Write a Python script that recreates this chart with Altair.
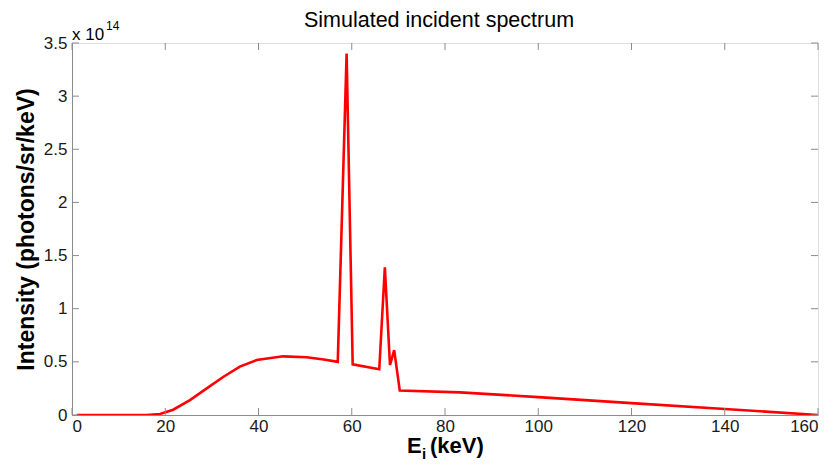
import altair as alt
import pandas as pd

# Spectrum (intensity in units of 1e14 photons/sr/keV)
energy = [1, 10, 16, 18.9, 21.7, 25.3, 28.9, 32.5, 36.0, 39.6, 45.3, 50.3, 54.0,
          57.0, 58.9, 60.2, 65.9, 67.1, 68.2, 69.1, 70.3, 83.2, 100, 120, 140, 160]
intensity = [0, 0, 0, 0.01, 0.05, 0.14, 0.25, 0.36, 0.455, 0.517, 0.552, 0.543, 0.522,
             0.50, 3.40, 0.477, 0.43, 1.39, 0.47, 0.61, 0.23, 0.213, 0.168, 0.112, 0.056, 0.0]

x_ticks = [0, 20, 40, 60, 80, 100, 120, 140, 160]
y_ticks = [0, 0.5, 1, 1.5, 2, 2.5, 3, 3.5]

title_text = "Simulated incident spectrum"
y_title = "Intensity (photons/sr/keV)"
x_title_main = "E"
x_title_sub = "i"
x_title_unit = "(keV)"
mult_text = "x 10"
mult_exp = "14"

FONT = "Liberation Sans"
W, H = 746, 372
AX = "#8c8c8c"
RED = "#ff0000"

df = pd.DataFrame({"E": energy, "I": intensity})
xs = alt.Scale(domain=[0, 160], nice=False, zero=False)
ys = alt.Scale(domain=[0, 3.5], nice=False, zero=False)

line = alt.Chart(df).mark_line(color=RED, strokeWidth=2.6, clip=True).encode(
    x=alt.X("E:Q", scale=xs, axis=alt.Axis(
        values=x_ticks, format="d", title=None, grid=False, ticks=False,
        domainColor=AX, labelFont=FONT, labelFontSize=17, labelColor="#1a1a1a",
        labelPadding=3)),
    y=alt.Y("I:Q", scale=ys, axis=alt.Axis(
        values=y_ticks, format="~g", title=y_title, grid=False, ticks=False,
        domainColor=AX, labelFont=FONT, labelFontSize=17, labelColor="#1a1a1a",
        labelPadding=5, titleFont=FONT, titleFontSize=23, titleFontWeight="bold",
        titleColor="#000000", titlePadding=5)),
)

xt = pd.DataFrame({"v": x_ticks})
yt = pd.DataFrame({"v": y_ticks})
tk = dict(color=AX, strokeWidth=1)
xtick_bot = alt.Chart(xt).mark_rule(**tk).encode(x=alt.X("v:Q", scale=xs), y=alt.value(H), y2=alt.value(H - 7))
xtick_top = alt.Chart(xt).mark_rule(**tk).encode(x=alt.X("v:Q", scale=xs), y=alt.value(0), y2=alt.value(7))
ytick_l = alt.Chart(yt).mark_rule(**tk).encode(y=alt.Y("v:Q", scale=ys), x=alt.value(0), x2=alt.value(7))
ytick_r = alt.Chart(yt).mark_rule(**tk).encode(y=alt.Y("v:Q", scale=ys), x=alt.value(W), x2=alt.value(W - 7))

def txt(s, x, y, size, weight="normal", align="left"):
    return alt.Chart(pd.DataFrame({"t": [s]})).mark_text(
        font=FONT, fontSize=size, fontWeight=weight, align=align, baseline="alphabetic",
        color="#000000").encode(x=alt.value(x), y=alt.value(y), text="t:N")

texts = [
    txt(title_text, 367, -16, 21.5, align="center"),
    txt(mult_text, 0, -3, 17),
    txt(mult_exp, 34, -13, 12),
    txt(x_title_main, 335, 410, 22, "bold"),
    txt(x_title_sub, 350, 416, 15, "bold"),
    txt(x_title_unit, 358, 410, 22, "bold"),
]

chart = alt.layer(line, xtick_bot, xtick_top, ytick_l, ytick_r, *texts).properties(
    width=W, height=H, autosize="none",
    padding={"left": 64, "top": 35, "right": 12, "bottom": 46},
).configure_view(stroke=AX, strokeWidth=1).configure(background="white")

chart.save("out.html", embed_options={"renderer": "svg", "actions": False})
